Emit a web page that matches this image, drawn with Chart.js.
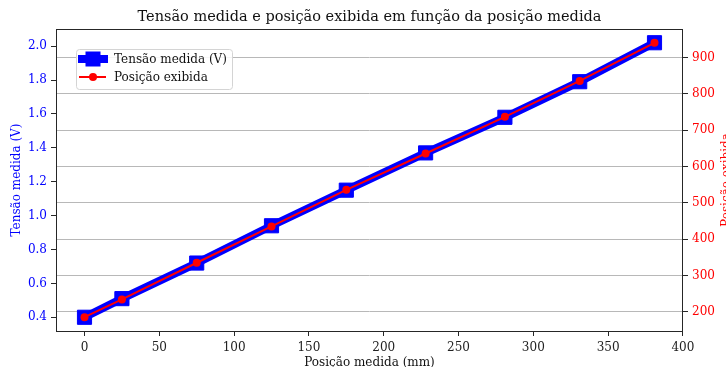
<!DOCTYPE html>
<html>
<head>
<meta charset="utf-8">
<script src="https://cdn.jsdelivr.net/npm/chart.js@4.4.1/dist/chart.umd.min.js"></script>
<style>
html,body{margin:0;padding:0;background:#fff;}
#wrap{width:726px;height:367px;position:relative;}
</style>
</head>
<body>
<div id="wrap"><canvas id="c" width="726" height="367"></canvas></div>
<script>
// ---- data ----
const positionMeasured = [0, 25, 75, 125, 175, 228, 281, 331, 381];
const voltageMeasured = [0.40, 0.51, 0.72, 0.94, 1.15, 1.37, 1.58, 1.79, 2.02];
const positionShown = [185, 234, 335, 435, 536, 636, 737, 836, 941];
const xTicks = [0, 50, 100, 150, 200, 250, 300, 350, 400];
const leftTicks = [0.4, 0.6, 0.8, 1.0, 1.2, 1.4, 1.6, 1.8, 2.0];
const rightTicks = [200, 300, 400, 500, 600, 700, 800, 900];
const titleText = 'Tensão medida e posição exibida em função da posição medida';
const xTitle = 'Posição medida (mm)';
const leftTitle = 'Tensão medida (V)';
const rightTitle = 'Posição exibida';
const seriesNames = ['Tensão medida (V)', 'Posição exibida'];

const FONT = "'DejaVu Serif', serif";
const FS = 12;

const frame = {
  id: 'frame',
  afterDatasetsDraw(chart) {
    const {ctx, chartArea: a} = chart;
    ctx.save();
    ctx.strokeStyle = '#262626';
    ctx.lineWidth = 1;
    ctx.strokeRect(Math.round(a.left) + 0.5, Math.round(a.top) + 0.5,
      Math.round(a.right - a.left) - 1, Math.round(a.bottom - a.top));
    ctx.restore();
  },
  afterDraw(chart) {
    const {ctx, chartArea: a} = chart;
    // title centred over the plot area
    ctx.save();
    ctx.fillStyle = '#111';
    ctx.font = '14.5px ' + FONT;
    ctx.textAlign = 'center';
    ctx.textBaseline = 'middle';
    ctx.fillText(titleText, (a.left + a.right) / 2, 17);
    ctx.restore();
    // right axis title (reads bottom to top)
    ctx.save();
    ctx.translate(730, (a.top + a.bottom) / 2);
    ctx.rotate(-Math.PI / 2);
    ctx.fillStyle = 'red';
    ctx.font = FS + 'px ' + FONT;
    ctx.textAlign = 'center';
    ctx.textBaseline = 'alphabetic';
    ctx.fillText(rightTitle, 0, 0);
    ctx.restore();
    // legend
    const lx = 76, ly = 49, lw = 156, lh = 40;
    ctx.save();
    ctx.beginPath();
    ctx.roundRect(lx + 0.5, ly + 0.5, lw, lh, 3);
    ctx.fillStyle = 'rgba(255,255,255,0.85)';
    ctx.fill();
    ctx.strokeStyle = '#d4d4d4';
    ctx.lineWidth = 1;
    ctx.stroke();
    let cy = 59;
    ctx.strokeStyle = 'blue';
    ctx.lineWidth = 8;
    ctx.beginPath(); ctx.moveTo(78, cy); ctx.lineTo(108, cy); ctx.stroke();
    ctx.fillStyle = 'blue';
    ctx.fillRect(93 - 7.5, cy - 7.5, 15, 15);
    cy = 77;
    ctx.strokeStyle = 'red';
    ctx.lineWidth = 2;
    ctx.beginPath(); ctx.moveTo(79, cy); ctx.lineTo(106, cy); ctx.stroke();
    ctx.fillStyle = 'red';
    ctx.beginPath(); ctx.arc(93, cy, 4, 0, Math.PI * 2); ctx.fill();
    ctx.fillStyle = '#111';
    ctx.font = FS + 'px ' + FONT;
    ctx.textAlign = 'left';
    ctx.textBaseline = 'middle';
    ctx.fillText(seriesNames[0], 114, 60);
    ctx.fillText(seriesNames[1], 114, 77.5);
    ctx.restore();
  }
};

new Chart(document.getElementById('c'), {
  type: 'line',
  data: {
    datasets: [
      {
        label: seriesNames[0],
        data: positionMeasured.map((x, i) => ({x, y: voltageMeasured[i]})),
        yAxisID: 'yL',
        borderColor: 'blue',
        backgroundColor: 'blue',
        borderWidth: 8,
        pointStyle: 'rect',
        pointRadius: 10,
        pointBorderWidth: 1,
        pointBackgroundColor: 'blue',
        pointBorderColor: 'blue',
        tension: 0,
        order: 2
      },
      {
        label: seriesNames[1],
        data: positionMeasured.map((x, i) => ({x, y: positionShown[i]})),
        yAxisID: 'yR',
        borderColor: 'red',
        backgroundColor: 'red',
        borderWidth: 2,
        pointStyle: 'circle',
        pointRadius: 4,
        pointBorderWidth: 0,
        pointBackgroundColor: 'red',
        tension: 0,
        order: 1
      }
    ]
  },
  options: {
    responsive: false,
    animation: false,
    devicePixelRatio: 1,
    layout: {padding: {top: 29}},
    plugins: {
      legend: {display: false},
      tooltip: {enabled: false},
      title: {display: false}
    },
    scales: {
      x: {
        type: 'linear',
        position: 'bottom',
        min: -19.05,
        max: 400.05,
        afterBuildTicks: s => { s.ticks = xTicks.map(v => ({value: v})); },
        afterFit: s => { s.height = 36; },
        grid: {drawOnChartArea: false, tickLength: 5, tickColor: '#262626', tickWidth: 1},
        border: {display: false},
        ticks: {color: '#222', font: {family: FONT, size: FS}, padding: 5, maxRotation: 0, autoSkip: false,
          callback: v => String(v)},
        title: {display: true, text: xTitle, color: '#111', font: {family: FONT, size: FS, lineHeight: 0.75},
          padding: {top: 0, bottom: 0}}
      },
      yL: {
        type: 'linear',
        position: 'left',
        min: 0.319,
        max: 2.101,
        afterBuildTicks: s => { s.ticks = leftTicks.map(v => ({value: v})); },
        afterFit: s => { s.width = 56; },
        grid: {drawOnChartArea: false, tickLength: 5, tickColor: '#262626', tickWidth: 1},
        border: {display: false},
        ticks: {color: 'blue', font: {family: FONT, size: FS}, padding: 4, autoSkip: false,
          callback: v => Number(v).toFixed(1)},
        title: {display: true, text: leftTitle, color: 'blue', font: {family: FONT, size: FS, lineHeight: 1},
          padding: {top: 11, bottom: 0}}
      },
      yR: {
        type: 'linear',
        position: 'right',
        min: 147,
        max: 979,
        afterBuildTicks: s => { s.ticks = rightTicks.map(v => ({value: v})); },
        afterFit: s => { s.width = 43; },
        grid: {drawOnChartArea: true, color: '#b8b8b8', lineWidth: 1, tickLength: 5, tickColor: '#262626', tickWidth: 1},
        border: {display: false},
        ticks: {color: 'red', font: {family: FONT, size: FS}, padding: 4, autoSkip: false,
          callback: v => String(v)}
      }
    }
  },
  plugins: [frame]
});
</script>
</body>
</html>
